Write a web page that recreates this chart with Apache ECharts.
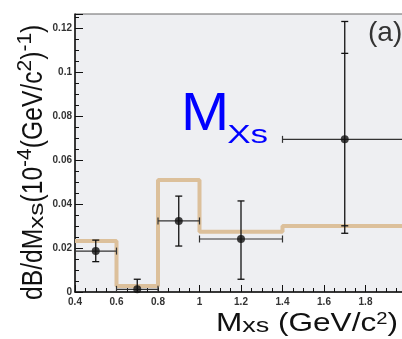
<!DOCTYPE html>
<html>
<head>
<meta charset="utf-8">
<script src="https://cdn.jsdelivr.net/npm/echarts@6/dist/echarts.min.js"></script>
<style>
html,body{margin:0;padding:0;background:#fff;}
#c{width:402px;height:339px;}
</style>
</head>
<body>
<div id="c"></div>
<script>
// ---- data ----
const xTickLabels = ['0.4','0.6','0.8','1','1.2','1.4','1.6','1.8','2'];
const yTickLabels = ['0','0.02','0.04','0.06','0.08','0.1','0.12'];
const binEdges = [0.4, 0.6, 0.8, 1.0, 1.4, 2.0];
const mcValues = [0.0232, 0.0027, 0.0509, 0.0274, 0.0300];
const ptX    = [0.5, 0.7, 0.9, 1.2, 1.7];
const ptY    = [0.0186, 0.0012, 0.0323, 0.0241, 0.0694];
const ptXLo  = [0.4, 0.6, 0.8, 1.0, 1.4];
const ptXHi  = [0.6, 0.8, 1.0, 1.4, 2.0];
const ptYLo  = [0.0138, 0, 0.0209, 0.0058, 0.0267];
const ptYHi  = [0.0236, 0.0058, 0.0436, 0.0414, 0.1230];
const ptStatLo = [null, null, null, null, 0.0301];
const ptStatHi = [null, null, null, null, 0.1085];

const X_MIN = 0.4, X_MAX = 2.0, X_INT = 0.2;
const Y_MIN = 0, Y_MAX = 0.1264, Y_INT = 0.02;

const FONT = '"Liberation Sans", Arial, Helvetica, sans-serif';

function labelFmt(labels, min, step) {
  return function (v) {
    const i = Math.round((v - min) / step);
    if (i < 0 || i >= labels.length) return '';
    if (Math.abs(v - (min + i * step)) > 1e-7) return '';
    return labels[i];
  };
}

// ---- text helper: sequence of pieces along a baseline ----
const mctx = document.createElement('canvas').getContext('2d');
function measure(t, s) { mctx.font = 'normal ' + s + 'px ' + FONT; return mctx.measureText(t).width; }
function textSeq(pieces, x0, y0, rot, color, perpScale) {
  const children = [];
  let cx = 0;
  pieces.forEach(p => {
    cx += (p.gap || 0);
    const sx = p.sx || 1;
    children.push({
      type: 'text',
      x: cx, y: (p.dy || 0) - 0.33 * p.s,
      scaleX: sx,
      style: { text: p.t, fill: color, font: 'normal ' + p.s + 'px ' + FONT, align: 'left', verticalAlign: 'middle' }
    });
    cx += measure(p.t, p.s) * sx;
  });
  return { type: 'group', x: x0, y: y0, rotation: rot || 0, scaleY: perpScale || 1, children: children, z: 50 };
}

const histData = binEdges.map((e, i) => [e, mcValues[Math.min(i, mcValues.length - 1)]]);
const errData = ptX.map((x, i) => [x, ptY[i], ptXLo[i], ptXHi[i], ptYLo[i], ptYHi[i],
  ptStatLo[i] == null ? '-' : ptStatLo[i], ptStatHi[i] == null ? '-' : ptStatHi[i]]);
const ptData = ptX.map((x, i) => [x, ptY[i]]);

const chart = echarts.init(document.getElementById('c'), null, { renderer: 'canvas' });

const axisLabelStyle = { color: '#333', fontWeight: 'bold', fontSize: 10, fontFamily: FONT };

const aSx = 0.85, subSx = 1.25, supSx = 1.0;
const yTitle = textSeq([
  { t: 'dB/dM', s: 29, sx: aSx },
  { t: 'xs', s: 21, sx: subSx, dy: 0 },
  { t: '(10', s: 29, sx: aSx },
  { t: '-4', s: 21, sx: supSx, dy: -12 },
  { t: '(GeV/c', s: 29, sx: aSx },
  { t: '2', s: 21, sx: supSx, dy: -12 },
  { t: ')', s: 29, sx: aSx },
  { t: '-1', s: 21, sx: supSx, dy: -12 },
  { t: ')', s: 29, sx: aSx }
], 44, 300, Math.PI / 2, '#111');

const xTitle = textSeq([
  { t: 'M', s: 26.5, sx: 1.19 },
  { t: 'xs', s: 20, sx: 1.35, dy: 0.5 },
  { t: ' (GeV/c', s: 26.5, sx: 1.19 },
  { t: '2', s: 17, sx: 1.19, dy: -7.5 },
  { t: ')', s: 26.5, sx: 1.19 }
], 216, 332.5, 0, '#111');

const blueLabel = textSeq([
  { t: 'M', s: 54, sx: 1.07 },
  { t: 'Xs', s: 26, sx: 1.35, dy: 11.5, gap: -2 }
], 181, 133, 0, '#0000ff');

const panelLabel = textSeq([{ t: '(a)', s: 28 }], 368, 42.5, 0, '#333');

chart.setOption({
  animation: false,
  backgroundColor: '#ffffff',
  grid: { left: 75, top: 14, right: -5, bottom: 47, outerBoundsMode: 'none', containLabel: false,
    show: true, backgroundColor: '#eeeff2', borderColor: '#666', borderWidth: 1 },
  xAxis: {
    type: 'value', min: X_MIN, max: X_MAX, interval: X_INT,
    axisLine: { show: true, onZero: false, lineStyle: { color: '#111', width: 1.5 } },
    axisTick: { show: true, inside: true, length: 7, lineStyle: { color: '#111', width: 1 } },
    minorTick: { show: true, splitNumber: 4, length: 4, lineStyle: { color: '#111', width: 1 } },
    splitLine: { show: false },
    axisLabel: Object.assign({ margin: 5, formatter: labelFmt(xTickLabels, X_MIN, X_INT) }, axisLabelStyle)
  },
  yAxis: [{
    type: 'value', min: Y_MIN, max: Y_MAX, interval: Y_INT, position: 'left',
    axisLine: { show: true, onZero: false, lineStyle: { color: '#111', width: 1.5 } },
    axisTick: { show: true, inside: true, length: 8, lineStyle: { color: '#111', width: 1 } },
    splitLine: { show: false },
    axisLabel: Object.assign({ margin: 3, formatter: labelFmt(yTickLabels, Y_MIN, Y_INT) }, axisLabelStyle)
  }, {
    type: 'value', min: Y_MIN, max: Y_MAX, interval: 0.005, position: 'left',
    axisLine: { show: false },
    axisTick: { show: true, inside: true, length: 4, lineStyle: { color: '#111', width: 1 } },
    splitLine: { show: false },
    axisLabel: { show: false }
  }],
  series: [{
    type: 'line', step: 'end', data: histData, showSymbol: false, symbol: 'none',
    lineStyle: { color: '#dcc09b', width: 4 }, z: 2, clip: true
  }, {
    type: 'custom', data: errData, z: 3,
    encode: { x: [0, 2, 3], y: [1, 4, 5] },
    renderItem: function (params, api) {
      const x = api.value(0), y = api.value(1);
      const c = api.coord([x, y]);
      const l = api.coord([api.value(2), y]);
      const r = api.coord([api.value(3), y]);
      const lo = api.coord([x, api.value(4)]);
      const hi = api.coord([x, api.value(5)]);
      const cap = 3.5;
      const hs = { stroke: '#333', lineWidth: 1.2 };
      const vs = { stroke: '#111', lineWidth: 1.3 };
      const ch = [
        { type: 'line', shape: { x1: l[0], y1: c[1], x2: r[0], y2: c[1] }, style: hs },
        { type: 'line', shape: { x1: l[0], y1: c[1] - cap, x2: l[0], y2: c[1] + cap }, style: hs },
        { type: 'line', shape: { x1: r[0], y1: c[1] - cap, x2: r[0], y2: c[1] + cap }, style: hs },
        { type: 'line', shape: { x1: c[0], y1: lo[1], x2: c[0], y2: hi[1] }, style: vs },
        { type: 'line', shape: { x1: c[0] - cap, y1: hi[1], x2: c[0] + cap, y2: hi[1] }, style: vs }
      ];
      if (api.value(4) > 0) ch.push({ type: 'line', shape: { x1: c[0] - cap, y1: lo[1], x2: c[0] + cap, y2: lo[1] }, style: vs });
      const sl = api.value(6), sh = api.value(7);
      if (!isNaN(sl)) { const p = api.coord([x, sl]); ch.push({ type: 'line', shape: { x1: c[0] - cap, y1: p[1], x2: c[0] + cap, y2: p[1] }, style: vs }); }
      if (!isNaN(sh)) { const p = api.coord([x, sh]); ch.push({ type: 'line', shape: { x1: c[0] - cap, y1: p[1], x2: c[0] + cap, y2: p[1] }, style: vs }); }
      return { type: 'group', children: ch };
    }
  }, {
    type: 'scatter', data: ptData, symbol: 'circle', symbolSize: 8,
    itemStyle: { color: '#111' }, z: 4
  }],
  graphic: [yTitle, xTitle, blueLabel, panelLabel]
});
</script>
</body>
</html>
